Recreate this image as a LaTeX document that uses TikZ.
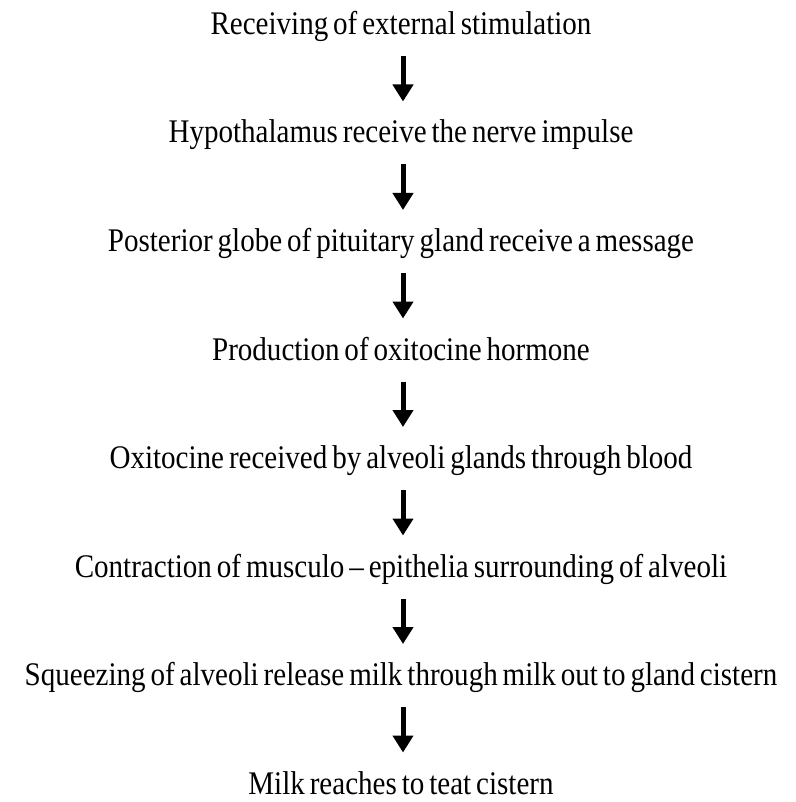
\documentclass[tikz,border=0pt]{standalone}
\usepackage{fontspec}
\setmainfont{Liberation Serif}[FakeStretch=0.88, WordSpace=0.68]
\usepackage{tikz}
\usetikzlibrary{arrows.meta, positioning}

\begin{document}
\begin{tikzpicture}[-{Triangle[width=20pt,length=17pt]}, line width=5pt,
		shorten <=12pt, shorten >=17pt, node distance=108.5pt,
		every node/.style={inner sep=0pt, text height=22pt, text depth=7pt,
			font=\fontsize{33pt}{36pt}\selectfont}]
		\useasboundingbox (0,0) rectangle (795pt,-802pt);

		\node (Recv) at (401pt,-27pt) {Receiving of external stimulation};
		\node (Hypo) [below of=Recv] {Hypothalamus receive the nerve impulse};
		\node (Post) [below of=Hypo] {Posterior globe of pituitary gland receive a message};
		\node (Prod) [below of=Post] {Production of oxitocine hormone};
		\node (Oxit) [below of=Prod] {Oxitocine received by alveoli glands through blood};
		\node (Contr) [below of=Oxit] {Contraction of musculo -- epithelia surrounding of alveoli};
		\node (Squz) [below of=Contr] {Squeezing of alveoli release milk through milk out to gland cistern};
		\node (Milk) [below of=Squz] {Milk reaches to teat cistern};

		\path
		([xshift=2pt]Recv.south) edge ([xshift=2pt]Hypo.north)
		([xshift=2pt]Hypo.south) edge ([xshift=2pt]Post.north)
		([xshift=2pt]Post.south) edge ([xshift=2pt]Prod.north)
		([xshift=2pt]Prod.south) edge ([xshift=2pt]Oxit.north)
		([xshift=2pt]Oxit.south) edge ([xshift=2pt]Contr.north)
		([xshift=2pt]Contr.south) edge ([xshift=2pt]Squz.north)
		([xshift=2pt]Squz.south) edge ([xshift=2pt]Milk.north);
	\end{tikzpicture}
\end{document}
